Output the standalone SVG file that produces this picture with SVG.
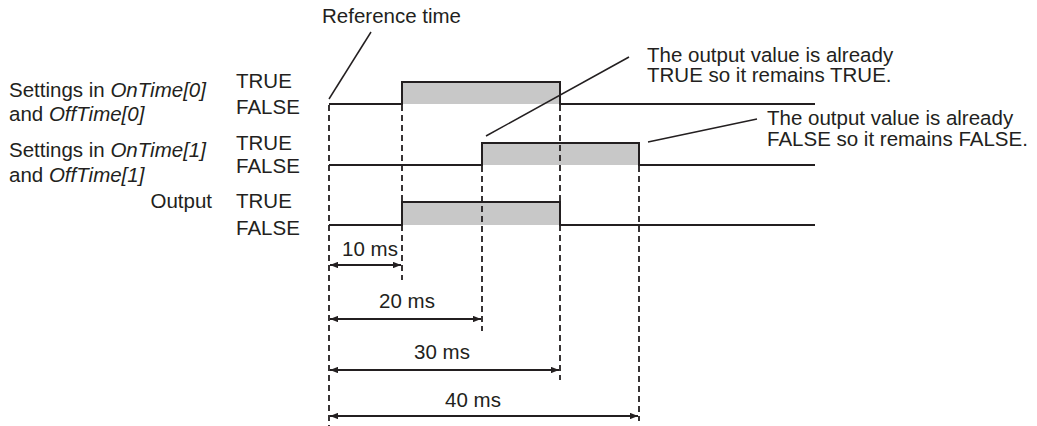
<svg xmlns="http://www.w3.org/2000/svg" width="1037" height="426" viewBox="0 0 1037 426">
<style>
text{font-family:"Liberation Sans",Arial,sans-serif;font-size:20.5px;fill:#231f20}
.it{font-style:italic}
.sig{fill:none;stroke:#231f20;stroke-width:2}
.fill{fill:#c8c8c8;stroke:none}
.dash{stroke:#231f20;stroke-width:1.8;stroke-dasharray:6,4;fill:none}
.lead{stroke:#231f20;stroke-width:1.5;fill:none}
.dim{stroke:#231f20;stroke-width:1.8;fill:none;marker-start:url(#a);marker-end:url(#a)}
</style>
<defs>
<marker id="a" viewBox="0 0 10 8" refX="10" refY="4" markerWidth="8" markerHeight="6.4" markerUnits="userSpaceOnUse" orient="auto-start-reverse">
<path d="M0,0 L10,4 L0,8 Z" fill="#231f20"/>
</marker>
</defs>
<g id="labels">
<text x="9" y="97">Settings in <tspan class="it">OnTime[0]</tspan></text>
<text x="9" y="121">and <tspan class="it">OffTime[0]</tspan></text>
<text x="9" y="157">Settings in <tspan class="it">OnTime[1]</tspan></text>
<text x="9" y="182">and <tspan class="it">OffTime[1]</tspan></text>
<text x="212" y="208" text-anchor="end">Output</text>
<text x="236" y="88">TRUE</text>
<text x="236" y="114">FALSE</text>
<text x="236" y="150">TRUE</text>
<text x="236" y="173">FALSE</text>
<text x="236" y="208">TRUE</text>
<text x="236" y="235">FALSE</text>
</g>
<g id="signal0">
<rect class="fill" x="402" y="82" width="158" height="22"/>
<path class="sig" d="M329,104 H402 V82 H560 V104 H815"/>
</g>
<g id="signal1">
<rect class="fill" x="482" y="143" width="157" height="22"/>
<path class="sig" d="M329,165 H482 V143 H639 V165 H815"/>
</g>
<g id="output">
<rect class="fill" x="402" y="202" width="158" height="23"/>
<path class="sig" d="M329,225 H402 V202 H560 V225 H815"/>
</g>
<g id="connectors">
<line class="dash" x1="329" y1="105" x2="329" y2="426"/>
<line class="dash" x1="402" y1="105" x2="402" y2="280"/>
<line class="dash" x1="482" y1="166" x2="482" y2="331"/>
<line class="dash" x1="560" y1="105" x2="560" y2="380"/>
<line class="dash" x1="639" y1="166" x2="639" y2="421"/>
<line class="dim" x1="330" y1="265" x2="401" y2="265"/>
<line class="dim" x1="330" y1="319" x2="481" y2="319"/>
<line class="dim" x1="330" y1="370" x2="559" y2="370"/>
<line class="dim" x1="330" y1="416" x2="638" y2="416"/>
<line class="lead" x1="371" y1="32" x2="329" y2="99"/>
<line class="lead" x1="629" y1="57" x2="486" y2="136"/>
<line class="lead" x1="757" y1="119" x2="648" y2="142"/>
</g>
<g id="annotations">
<text x="322" y="23">Reference time</text>
<text x="647" y="62">The output value is already</text>
<text x="647" y="82">TRUE so it remains TRUE.</text>
<text x="767" y="125">The output value is already</text>
<text x="767" y="146">FALSE so it remains FALSE.</text>
<text x="370" y="256" text-anchor="middle">10 ms</text>
<text x="407" y="308" text-anchor="middle">20 ms</text>
<text x="442" y="359" text-anchor="middle">30 ms</text>
<text x="473" y="407" text-anchor="middle">40 ms</text>
</g>
</svg>
